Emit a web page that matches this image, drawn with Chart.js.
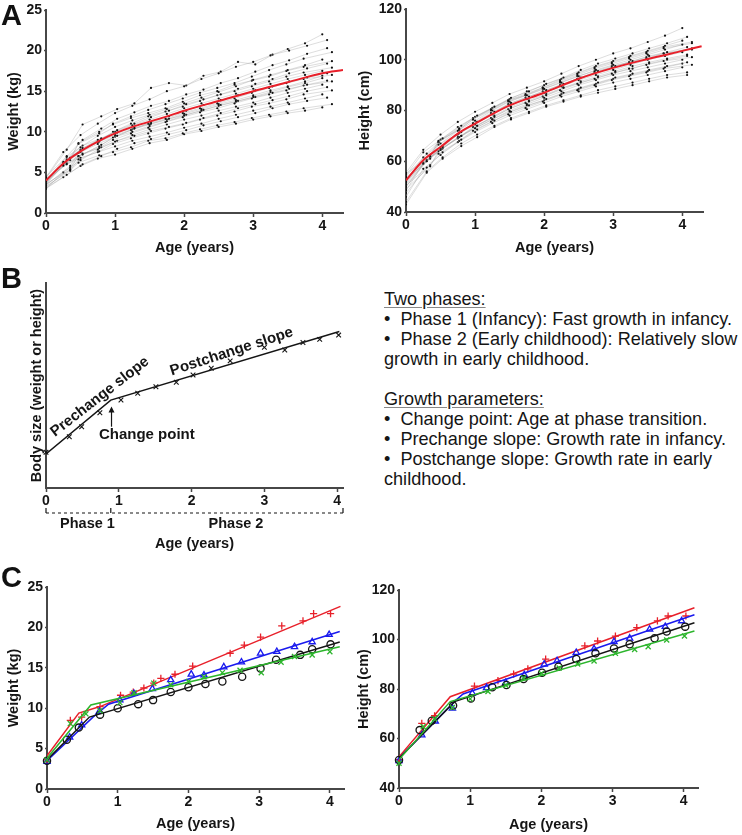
<!DOCTYPE html>
<html>
<head>
<meta charset="utf-8">
<script src="https://cdn.jsdelivr.net/npm/chart.js@4.4.1/dist/chart.umd.min.js"></script>
<style>
    body { margin: 0; background: #fff; }
    #wrap { position: relative; width: 742px; height: 835px; overflow: hidden; background: #fff; }
    canvas { position: absolute; }
    .tag { position: absolute; font: bold 29px/29px 'Liberation Sans', Arial, sans-serif; color: #111; }
    #notes { position: absolute; left: 384px; top: 289px; font: 18.1px/20px 'Liberation Sans', Arial, sans-serif; color: #151515; white-space: nowrap; }
    #notes u { text-decoration-color: #888; text-underline-offset: 2px; }
</style>
</head>
<body>
<div id="wrap">
    <canvas id="weightA" width="371" height="260" style="left:0;top:0"></canvas>
    <canvas id="heightA" width="392" height="260" style="left:350px;top:0"></canvas>
    <canvas id="modelB" width="371" height="300" style="left:0;top:255px"></canvas>
    <canvas id="weightC" width="371" height="275" style="left:0;top:560px"></canvas>
    <canvas id="heightC" width="392" height="275" style="left:350px;top:560px"></canvas>
    <div class="tag" style="left:1px;top:1px">A</div>
    <div class="tag" style="left:1px;top:264px">B</div>
    <div class="tag" style="left:1px;top:563px">C</div>
    <div id="notes">
        <div><u>Two phases:</u></div>
        <div>•&nbsp;&nbsp;Phase 1 (Infancy): Fast growth in infancy.</div>
        <div>•&nbsp;&nbsp;Phase 2 (Early childhood): Relatively slow</div>
        <div>growth in early childhood.</div>
        <div>&nbsp;</div>
        <div><u>Growth parameters:</u></div>
        <div>•&nbsp;&nbsp;Change point: Age at phase transition.</div>
        <div>•&nbsp;&nbsp;Prechange slope: Growth rate in infancy.</div>
        <div>•&nbsp;&nbsp;Postchange slope: Growth rate in early</div>
        <div>childhood.</div>
    </div>
</div>
<script>
// ---- panel A: individual visits (ages per visit schedule) ----
const AGE_GRIDS = [
    [0, 0.25, 0.50, 0.75, 1.00, 1.25, 1.50, 1.75, 2.00, 2.25, 2.50, 2.75, 3.00, 3.25, 3.50, 3.75, 4.00],
    [0, 0.30, 0.53, 0.80, 1.03, 1.28, 1.52, 1.78, 2.03, 2.28, 2.53, 2.78, 3.03, 3.28, 3.52, 3.78, 4.07],
    [0, 0.35, 0.47, 0.77, 0.97, 1.23, 1.48, 1.73, 1.98, 2.23, 2.48, 2.73, 2.98, 3.23, 3.48, 3.73, 4.14]
];

// weight (kg) of each child at the visits of its schedule
const WEIGHT_CHILDREN = [
    [4.4, 7.5, 9.6, 11.0, 12.3, 13.2, 14.0, 15.0, 15.6, 16.5, 17.2, 18.0, 18.6, 19.4, 20.2, 20.9, 22.0],
    [3.9, 7.0, 9.0, 10.4, 11.6, 12.4, 13.2, 13.8, 14.6, 15.2, 16.0, 16.6, 17.4, 18.2, 18.8, 19.6, 20.3],
    [4.2, 6.8, 8.5, 9.8, 11.0, 11.9, 12.7, 13.4, 14.1, 14.8, 15.4, 16.0, 16.8, 17.6, 18.3, 19.0, 19.8],
    [3.6, 6.3, 8.1, 9.5, 10.6, 11.4, 12.1, 12.8, 13.5, 14.2, 14.9, 15.6, 16.4, 17.0, 17.6, 18.2, 18.9],
    [4.0, 6.6, 8.0, 9.1, 10.2, 11.0, 11.8, 12.6, 13.4, 14.0, 14.6, 15.3, 15.9, 16.5, 17.2, 17.8, 18.4],
    [3.4, 5.8, 7.4, 8.8, 10.0, 11.0, 11.9, 12.5, 13.1, 13.8, 14.5, 15.0, 15.6, 16.2, 16.8, 17.3, 17.9],
    [3.8, 6.2, 7.8, 9.0, 10.0, 10.8, 11.5, 12.2, 12.9, 13.5, 14.1, 14.7, 15.3, 15.9, 16.5, 17.0, 17.5],
    [4.1, 6.0, 7.2, 8.4, 9.5, 10.4, 11.2, 11.9, 12.6, 13.3, 13.9, 14.5, 15.1, 15.6, 16.2, 16.7, 17.2],
    [3.2, 5.4, 7.0, 8.2, 9.3, 10.2, 11.0, 11.6, 12.3, 12.9, 13.5, 14.1, 14.8, 15.4, 16.0, 16.5, 17.0],
    [3.7, 5.9, 7.5, 8.5, 9.4, 10.0, 10.7, 11.3, 12.0, 12.6, 13.2, 13.7, 14.3, 14.9, 15.5, 16.0, 16.6],
    [4.5, 6.9, 8.3, 9.2, 9.9, 10.5, 11.0, 11.6, 12.1, 12.7, 13.3, 13.8, 14.3, 14.8, 15.3, 15.8, 16.3],
    [3.5, 5.6, 7.0, 8.0, 9.0, 9.8, 10.5, 11.2, 11.8, 12.4, 12.9, 13.5, 14.1, 14.6, 15.1, 15.7, 16.2],
    [3.0, 5.0, 6.5, 7.8, 8.8, 9.6, 10.3, 10.9, 11.5, 12.0, 12.6, 13.1, 13.6, 14.2, 14.8, 15.3, 15.8],
    [3.9, 6.1, 7.3, 8.1, 8.9, 9.5, 10.1, 10.6, 11.1, 11.7, 12.3, 12.9, 13.4, 13.9, 14.4, 15.0, 15.5],
    [3.3, 5.2, 6.6, 7.6, 8.5, 9.2, 9.8, 10.4, 10.9, 11.5, 12.0, 12.5, 13.1, 13.5, 14.0, 14.6, 15.1],
    [4.2, 5.8, 6.8, 7.5, 8.2, 8.9, 9.4, 9.9, 10.5, 11.0, 11.6, 12.1, 12.6, 13.1, 13.6, 14.1, 14.6],
    [3.1, 4.7, 6.0, 7.0, 7.9, 8.6, 9.1, 9.7, 10.2, 10.8, 11.3, 11.8, 12.3, 12.9, 13.4, 13.8, 14.2],
    [3.6, 5.3, 6.2, 7.1, 7.5, 8.1, 8.9, 9.2, 9.8, 10.3, 10.8, 11.2, 11.7, 12.1, 12.5, 12.9, 13.4],
    [3.0, 4.4, 5.8, 6.7, 7.2, 7.9, 8.6, 9.0, 9.7, 10.1, 10.6, 11.0, 11.5, 11.9, 12.3, 12.6, 13.0],
    [4.3, 7.8, 10.9, 11.9, 12.8, 13.5, 15.4, 16.0, 15.7, 16.9, 17.4, 18.6, 18.3, 19.5, 20.0, 20.6, 21.3],
    [3.8, 6.5, 8.6, 10.0, 10.9, 11.7, 12.3, 12.9, 13.7, 14.5, 15.0, 15.8, 16.3, 16.8, 17.5, 18.0, 18.7],
    [3.5, 5.9, 7.7, 8.7, 9.6, 10.3, 10.9, 11.5, 12.2, 12.8, 13.4, 13.9, 14.5, 15.1, 15.6, 16.2, 16.9]
];

// height (cm) of each child at the visits of its schedule
const HEIGHT_CHILDREN = [
    [55.5, 64.5, 70.5, 75.5, 79.5, 83.0, 86.5, 89.0, 91.5, 94.5, 97.5, 100.0, 102.5, 104.5, 107.0, 109.5, 112.5],
    [54.0, 63.0, 69.0, 74.0, 78.0, 81.5, 85.0, 87.5, 90.5, 93.0, 96.0, 98.5, 100.5, 102.5, 104.5, 106.5, 109.0],
    [53.5, 62.0, 67.5, 73.0, 77.0, 80.5, 84.0, 86.5, 89.0, 92.0, 94.5, 97.0, 99.0, 101.0, 103.0, 105.0, 107.0],
    [52.0, 61.5, 67.0, 72.0, 76.0, 80.0, 83.5, 86.0, 88.5, 91.0, 93.5, 96.0, 98.0, 100.0, 102.0, 104.0, 106.0],
    [51.0, 60.0, 66.0, 71.5, 75.5, 79.5, 83.0, 85.5, 88.0, 90.5, 93.0, 95.5, 97.5, 99.5, 101.5, 103.0, 105.0],
    [53.0, 61.0, 66.5, 71.0, 75.0, 79.0, 82.5, 85.0, 87.5, 90.0, 92.5, 95.0, 97.0, 99.0, 100.5, 102.5, 104.0],
    [50.0, 59.0, 65.0, 70.5, 74.5, 78.5, 82.0, 84.5, 87.0, 89.5, 92.0, 94.0, 96.0, 98.0, 100.0, 101.5, 103.0],
    [52.5, 60.5, 65.5, 70.0, 74.0, 77.5, 81.0, 83.5, 86.0, 89.0, 91.5, 93.5, 95.5, 97.5, 99.0, 100.5, 102.0],
    [49.0, 58.0, 64.0, 69.5, 73.5, 77.0, 80.5, 83.0, 85.5, 88.0, 90.5, 92.5, 94.5, 96.5, 98.0, 99.5, 101.0],
    [51.5, 59.5, 64.5, 69.0, 73.0, 76.5, 80.0, 82.5, 85.0, 87.5, 90.0, 92.0, 94.0, 95.5, 97.0, 98.5, 100.0],
    [47.5, 57.5, 63.5, 68.5, 72.5, 76.0, 79.5, 82.0, 84.5, 87.0, 89.0, 91.0, 93.0, 94.5, 96.0, 97.5, 99.0],
    [50.5, 58.5, 63.0, 68.0, 72.0, 75.5, 78.5, 81.0, 83.5, 86.0, 88.0, 90.0, 92.0, 93.5, 95.0, 96.5, 98.0],
    [46.0, 57.0, 62.5, 67.5, 71.5, 75.0, 78.0, 80.5, 83.0, 85.5, 87.5, 89.5, 91.0, 92.5, 94.0, 95.5, 97.0],
    [44.0, 56.0, 61.5, 67.0, 70.5, 74.0, 77.0, 79.5, 82.0, 84.0, 86.0, 88.0, 89.5, 91.0, 92.5, 94.0, 95.0],
    [55.0, 62.5, 68.0, 72.5, 76.5, 80.0, 83.5, 86.0, 89.0, 91.5, 94.0, 96.5, 98.5, 100.5, 102.5, 104.5, 106.5],
    [48.5, 59.0, 64.5, 69.5, 73.0, 76.5, 79.5, 82.0, 84.0, 86.5, 88.5, 90.5, 92.5, 94.0, 95.5, 97.0, 98.5],
    [43.0, 55.5, 61.0, 66.0, 69.5, 73.5, 76.5, 79.0, 81.5, 83.5, 85.5, 87.0, 88.5, 90.0, 91.5, 93.0, 94.0],
    [52.0, 61.5, 67.5, 72.5, 76.5, 80.5, 84.0, 86.0, 88.5, 91.0, 93.5, 95.5, 97.5, 99.0, 101.0, 102.5, 104.5],
    [54.5, 63.5, 68.5, 73.5, 77.5, 81.0, 84.5, 87.5, 90.0, 92.5, 95.0, 97.5, 99.5, 101.5, 103.5, 105.5, 107.5],
    [50.0, 60.0, 65.0, 70.0, 74.0, 78.0, 81.5, 84.0, 86.5, 89.0, 91.0, 93.0, 95.0, 96.5, 98.5, 100.0, 101.5]
];

// red population curves
const WEIGHT_MEAN_AGES = [0, 0.25, 0.5, 0.75, 1, 1.25, 1.5, 1.75, 2, 2.5, 3, 3.5, 4, 4.3];
const WEIGHT_MEAN = [4.0, 6.1, 7.6, 8.8, 9.8, 10.6, 11.25, 11.9, 12.6, 13.8, 15.0, 16.1, 17.2, 17.6];
const HEIGHT_MEAN_AGES = [0, 0.25, 0.5, 0.75, 1, 1.5, 2, 2.5, 3, 3.5, 4, 4.28];
const HEIGHT_MEAN = [52.5, 60.4, 65.6, 70.9, 74.8, 82.0, 87.0, 92.5, 96.8, 100.3, 103.5, 105.3];

// ---- panel B: schematic ----
const MODEL_AGES = [0, 0.32, 0.49, 0.74, 1.03, 1.26, 1.51, 1.79, 2.02, 2.27, 2.53, 3.0, 3.28, 3.53, 3.76, 4.02];
const MODEL_SIZE = [1.74, 2.5, 2.99, 3.67, 4.29, 4.62, 4.94, 5.16, 5.51, 5.84, 6.2, 6.86, 6.73, 7.1, 7.25, 7.46];
const MODEL_FIT_AGES = [0, 0.89, 4.03];
const MODEL_FIT = [1.66, 4.29, 7.63];

// ---- panel C: four example children ----
const CW_RED_AGES = [0, 0.33, 0.49, 0.75, 1.04, 1.22, 1.37, 1.51, 1.61, 1.81, 2.06, 2.59, 2.79, 3.02, 3.32, 3.62, 3.77, 4.01];
const CW_RED = [3.6, 8.5, 8.9, 10.2, 11.6, 12.0, 12.5, 13.1, 13.7, 14.2, 15.2, 16.8, 17.8, 18.8, 20.2, 20.8, 21.7, 21.7];
const CW_BLUE_AGES = [0, 0.32, 0.49, 0.74, 1.03, 1.23, 1.49, 1.75, 2.04, 2.22, 2.5, 2.75, 3.02, 3.25, 3.5, 3.75, 3.99];
const CW_BLUE = [3.4, 6.4, 7.9, 9.6, 11.0, 11.8, 12.4, 13.5, 14.2, 14.1, 15.1, 15.7, 16.8, 17.0, 17.6, 18.2, 19.1];
const CW_BLACK_AGES = [0, 0.28, 0.45, 0.75, 1.0, 1.29, 1.5, 1.75, 2.0, 2.24, 2.48, 2.76, 3.02, 3.24, 3.58, 3.75, 4.01];
const CW_BLACK = [3.5, 6.1, 7.6, 9.2, 10.0, 10.5, 11.0, 12.0, 12.6, 13.0, 13.3, 13.9, 14.9, 16.0, 16.6, 17.3, 17.9];
const CW_GREEN_AGES = [0, 0.33, 0.55, 0.75, 1.03, 1.23, 1.51, 1.75, 2.0, 2.22, 2.48, 2.73, 3.03, 3.31, 3.5, 3.75, 4.0];
const CW_GREEN = [3.6, 8.1, 9.3, 9.7, 10.7, 11.9, 13.1, 12.9, 13.3, 13.9, 14.4, 14.7, 14.4, 15.7, 16.4, 16.6, 17.0];

const CW_RED_FIT_AGES = [0, 0.45, 0.75, 4.15];
const CW_RED_FIT = [4.1, 9.4, 10.2, 22.6];
const CW_BLUE_FIT_AGES = [0, 0.65, 0.87, 4.14];
const CW_BLUE_FIT = [3.5, 8.9, 10.5, 19.5];
const CW_BLACK_FIT_AGES = [0, 0.6, 4.14];
const CW_BLACK_FIT = [3.6, 8.9, 18.2];
const CW_GREEN_FIT_AGES = [0, 0.62, 4.14];
const CW_GREEN_FIT = [3.8, 10.4, 17.6];

const CH_RED_AGES = [0, 0.32, 0.5, 1.06, 1.39, 1.61, 1.81, 2.06, 2.61, 2.79, 3.04, 3.34, 3.63, 3.78, 4.03];
const CH_RED = [51.5, 66.1, 69.2, 81.2, 83.4, 86.0, 88.1, 92.1, 97.4, 99.4, 101.4, 104.8, 107.5, 109.5, 109.5];
const CH_BLUE_AGES = [0, 0.32, 0.51, 0.75, 1.03, 1.23, 1.5, 1.76, 2.04, 2.22, 2.49, 2.74, 3.02, 3.24, 3.52, 3.74, 3.97];
const CH_BLUE = [51.0, 61.4, 67.0, 72.2, 78.3, 80.5, 82.6, 85.7, 90.0, 91.4, 94.7, 96.2, 99.1, 100.5, 104.1, 105.2, 107.5];
const CH_BLACK_AGES = [0, 0.29, 0.46, 0.76, 1.01, 1.31, 1.51, 1.75, 2.01, 2.24, 2.49, 2.76, 3.02, 3.24, 3.59, 3.76, 4.02];
const CH_BLACK = [51.3, 63.4, 67.2, 73.3, 76.2, 80.7, 81.6, 84.0, 86.6, 89.0, 92.1, 94.4, 96.4, 98.1, 100.5, 103.2, 105.2];
const CH_GREEN_AGES = [0, 0.34, 0.5, 0.75, 1.0, 1.25, 1.5, 1.75, 2.0, 2.25, 2.51, 2.74, 3.04, 3.31, 3.5, 3.76, 4.01];
const CH_GREEN = [50.0, 64.8, 68.0, 72.5, 76.0, 79.0, 81.5, 84.5, 86.3, 88.5, 90.1, 91.3, 94.4, 96.0, 97.1, 99.8, 101.4];

const CH_RED_FIT_AGES = [0, 0.72, 4.15];
const CH_RED_FIT = [52.6, 76.9, 112.8];
const CH_BLUE_FIT_AGES = [0, 0.8, 0.9, 4.15];
const CH_BLUE_FIT = [52.0, 75.5, 78.0, 110.0];
const CH_BLACK_FIT_AGES = [0, 0.78, 4.15];
const CH_BLACK_FIT = [52.0, 74.9, 106.8];
const CH_GREEN_FIT_AGES = [0, 0.72, 4.15];
const CH_GREEN_FIT = [51.5, 74.9, 103.4];

const FAMILY = "'Liberation Sans', Arial, sans-serif";
const INK = '#151515';
const AXIS = '#474747';
const RED = '#e8202a';
const BLUE = '#1a1aee';
const GREEN = '#2cb52c';

Chart.defaults.font.family = FAMILY;
Chart.defaults.color = INK;
Chart.defaults.animation = false;
Chart.defaults.plugins.legend.display = false;
Chart.defaults.plugins.tooltip.enabled = false;

function pairs(xs, ys) {
    return xs.map(function (x, i) { return { x: x, y: ys[i] }; });
}

// frame = sizes that pin the plot area where the figure has it
function growthChart(id, frame, datasets, plugins) {
    return new Chart(document.getElementById(id), {
        type: 'scatter',
        data: { datasets: datasets },
        options: {
            responsive: false,
            layout: { padding: { left: 0, top: frame.top, right: frame.right, bottom: 0 } },
            scales: {
                x: {
                    type: 'linear', min: 0, max: frame.xMax,
                    ticks: { stepSize: 1, includeBounds: false, padding: 2, color: INK,
                        font: { size: 14, weight: 'bold', lineHeight: 1 } },
                    grid: { drawOnChartArea: false, tickLength: 4, tickWidth: 1.5, color: AXIS },
                    border: { color: AXIS, width: 2 },
                    title: { display: true, text: 'Age (years)', color: INK,
                        font: { size: 14.5, weight: 'bold' }, padding: { top: 0, bottom: frame.xTitlePad } },
                    afterFit: function (s) { s.height = frame.xHeight; }
                },
                y: {
                    type: 'linear', min: frame.yMin, max: frame.yMax,
                    ticks: { display: frame.yTicks, stepSize: frame.yStep, padding: 2, color: INK,
                        font: { size: 14, weight: 'bold', lineHeight: 1 } },
                    grid: { display: frame.yTicks, drawOnChartArea: false, tickLength: 2, tickWidth: 1.5, color: AXIS },
                    border: { color: AXIS, width: 2 },
                    title: { display: true, text: frame.yTitle, color: INK,
                        font: { size: 14.5, weight: 'bold' }, padding: { top: frame.yTitlePad, bottom: 0 } },
                    afterFit: function (s) { s.width = frame.yWidth; }
                }
            }
        },
        plugins: plugins || []
    });
}

// red curve first so it is painted on top of the children
function trajectorySets(children, meanAges, meanValues) {
    const sets = [{
        data: pairs(meanAges, meanValues), showLine: true, borderColor: RED, borderWidth: 2,
        pointRadius: 0, cubicInterpolationMode: 'monotone'
    }];
    children.forEach(function (vals, i) {
        sets.push({
            data: pairs(AGE_GRIDS[i % 3], vals), showLine: true,
            borderColor: 'rgba(150,150,150,0.55)', borderWidth: 0.6,
            pointRadius: 1.1, pointBackgroundColor: '#111', pointBorderWidth: 0
        });
    });
    return sets;
}

function childSets(color, style, ages, vals, fitAges, fitVals) {
    return [
        { data: pairs(fitAges, fitVals), showLine: true, borderColor: color, borderWidth: 1.5, pointRadius: 0 },
        { data: pairs(ages, vals), showLine: false, pointStyle: style, pointRadius: 3.6,
          pointBorderColor: color, pointBackgroundColor: 'rgba(0,0,0,0)', pointBorderWidth: 1.3, clip: false }
    ];
}

growthChart('weightA', { top: 10, right: 28, xMax: 4.3, xHeight: 47, xTitlePad: 3.3,
    yMin: 0, yMax: 25, yStep: 5, yTicks: true, yWidth: 46, yTitle: 'Weight (kg)', yTitlePad: 4.8 },
    trajectorySets(WEIGHT_CHILDREN, WEIGHT_MEAN_AGES, WEIGHT_MEAN));

growthChart('heightA', { top: 8, right: 39, xMax: 4.3, xHeight: 48, xTitlePad: 3.3,
    yMin: 40, yMax: 120, yStep: 20, yTicks: true, yWidth: 56, yTitle: 'Height (cm)', yTitlePad: 6.3 },
    trajectorySets(HEIGHT_CHILDREN, HEIGHT_MEAN_AGES, HEIGHT_MEAN));

// notes, arrow and phase bracket of the schematic
const phaseNotes = {
    id: 'phaseNotes',
    afterDraw: function (chart) {
        const ctx = chart.ctx;
        const x = chart.scales.x;
        const y = chart.scales.y;
        ctx.save();
        ctx.fillStyle = INK;
        ctx.strokeStyle = INK;
        ctx.textAlign = 'center';
        ctx.textBaseline = 'middle';
        ctx.font = 'bold 15px ' + FAMILY;

        function tilted(ax, v, deg, text) {
            ctx.save();
            ctx.translate(x.getPixelForValue(ax), y.getPixelForValue(v));
            ctx.rotate(deg * Math.PI / 180);
            ctx.fillText(text, 0, 0);
            ctx.restore();
        }
        tilted(0.74, 4.45, -38, 'Prechange slope');
        tilted(2.55, 6.65, -18, 'Postchange slope');
        tilted(1.385, 2.585, 0, 'Change point');

        // arrow up to the change point
        const ax = x.getPixelForValue(0.9);
        const a0 = y.getPixelForValue(2.99);
        const a1 = y.getPixelForValue(3.97);
        ctx.lineWidth = 1.2;
        ctx.beginPath();
        ctx.moveTo(ax, a0);
        ctx.lineTo(ax, a1 + 4);
        ctx.stroke();
        ctx.beginPath();
        ctx.moveTo(ax, a1);
        ctx.lineTo(ax - 3, a1 + 6);
        ctx.lineTo(ax + 3, a1 + 6);
        ctx.closePath();
        ctx.fill();

        // dashed bracket with the two phases
        const by = chart.chartArea.bottom + 25;
        const p0 = x.getPixelForValue(0);
        const p1 = x.getPixelForValue(0.89);
        const p2 = x.getPixelForValue(x.max);
        ctx.lineWidth = 1.2;
        ctx.setLineDash([3, 3]);
        ctx.beginPath();
        ctx.moveTo(p0, by);
        ctx.lineTo(p2, by);
        ctx.stroke();
        ctx.setLineDash([]);
        [p0, p1, p2].forEach(function (px) {
            ctx.beginPath();
            ctx.moveTo(px, by - 5);
            ctx.lineTo(px, by);
            ctx.stroke();
        });
        ctx.font = 'bold 14.5px ' + FAMILY;
        ctx.fillText('Phase 1', 87.5, by + 10.5);
        ctx.fillText('Phase 2', 236, by + 10.5);
        ctx.restore();
    }
};

growthChart('modelB', { top: 28, right: 28, xMax: 4.08, xHeight: 67, xTitlePad: 2.8,
    yMin: 0, yMax: 10, yStep: 1, yTicks: false, yWidth: 46, yTitle: 'Body size (weight or height)', yTitlePad: 27.8 },
    [
        { data: pairs(MODEL_FIT_AGES, MODEL_FIT), showLine: true, borderColor: INK, borderWidth: 1.5, pointRadius: 0 },
        { data: pairs(MODEL_AGES, MODEL_SIZE), showLine: false, pointStyle: 'crossRot', pointRadius: 3.3,
          pointBorderColor: INK, pointBorderWidth: 1.1, clip: false }
    ],
    [phaseNotes]);

growthChart('weightC', { top: 27, right: 27, xMax: 4.2, xHeight: 46, xTitlePad: 2.3,
    yMin: 0, yMax: 25, yStep: 5, yTicks: true, yWidth: 47, yTitle: 'Weight (kg)', yTitlePad: 5.3 },
    [].concat(
        childSets(GREEN, 'crossRot', CW_GREEN_AGES, CW_GREEN, CW_GREEN_FIT_AGES, CW_GREEN_FIT),
        childSets(INK, 'circle', CW_BLACK_AGES, CW_BLACK, CW_BLACK_FIT_AGES, CW_BLACK_FIT),
        childSets(BLUE, 'triangle', CW_BLUE_AGES, CW_BLUE, CW_BLUE_FIT_AGES, CW_BLUE_FIT),
        childSets(RED, 'cross', CW_RED_AGES, CW_RED, CW_RED_FIT_AGES, CW_RED_FIT)
    ));

growthChart('heightC', { top: 30, right: 44, xMax: 4.2, xHeight: 47, xTitlePad: 1.3,
    yMin: 40, yMax: 120, yStep: 20, yTicks: true, yWidth: 49, yTitle: 'Height (cm)', yTitlePad: 5.3 },
    [].concat(
        childSets(GREEN, 'crossRot', CH_GREEN_AGES, CH_GREEN, CH_GREEN_FIT_AGES, CH_GREEN_FIT),
        childSets(INK, 'circle', CH_BLACK_AGES, CH_BLACK, CH_BLACK_FIT_AGES, CH_BLACK_FIT),
        childSets(BLUE, 'triangle', CH_BLUE_AGES, CH_BLUE, CH_BLUE_FIT_AGES, CH_BLUE_FIT),
        childSets(RED, 'cross', CH_RED_AGES, CH_RED, CH_RED_FIT_AGES, CH_RED_FIT)
    ));
</script>
</body>
</html>
